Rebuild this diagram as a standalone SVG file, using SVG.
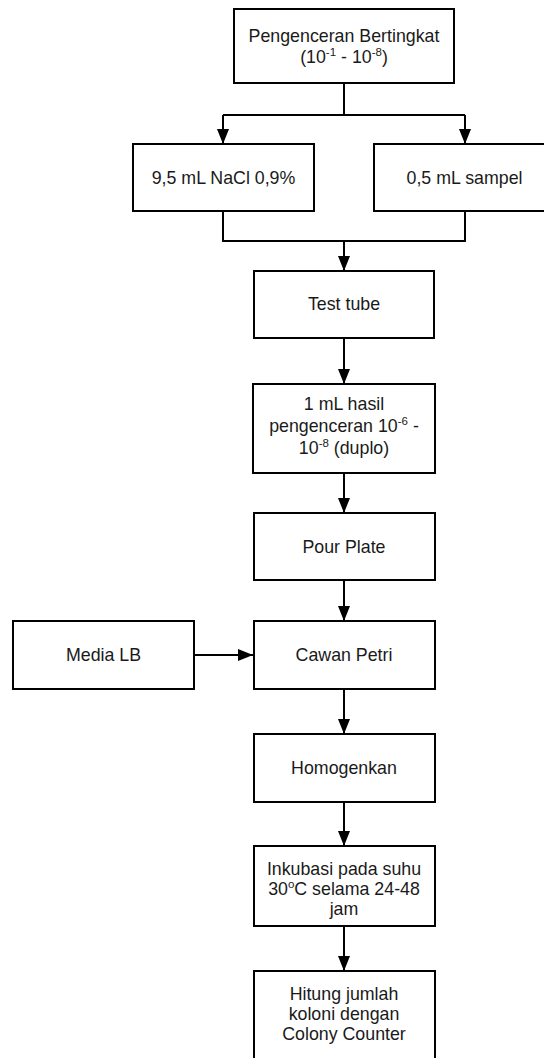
<svg xmlns="http://www.w3.org/2000/svg" width="544" height="1058" viewBox="0 0 544 1058">
<style>
.box{fill:#fff;stroke:#000;stroke-width:2}
.t{font-family:"Liberation Sans",Arial,sans-serif;font-size:17.8px;fill:#1a1a1a;text-anchor:middle}
.s{font-size:11.5px}
.c{fill:none;stroke:#000;stroke-width:2}
</style>
<defs>
<marker id="ah" markerUnits="userSpaceOnUse" markerWidth="15" markerHeight="12" viewBox="0 0 15 12" refX="15" refY="6" orient="auto">
<path d="M0,0 L15,6 L0,12 z" fill="#000"/>
</marker>
</defs>
<rect width="544" height="1058" fill="#fff"/>
<g id="connectors">
<path class="c" d="M344,83 V115 M223,115 H465"/>
<path class="c" d="M223,115 V144" marker-end="url(#ah)"/>
<path class="c" d="M465,115 V144" marker-end="url(#ah)"/>
<path class="c" d="M223,211 V241 H465 V211"/>
<path class="c" d="M344,241 V271" marker-end="url(#ah)"/>
<path class="c" d="M344,338 V384" marker-end="url(#ah)"/>
<path class="c" d="M344,473 V513" marker-end="url(#ah)"/>
<path class="c" d="M344,580 V621" marker-end="url(#ah)"/>
<path class="c" d="M194,655 H253" marker-end="url(#ah)"/>
<path class="c" d="M344,689 V734" marker-end="url(#ah)"/>
<path class="c" d="M344,802 V846" marker-end="url(#ah)"/>
<path class="c" d="M344,926 V971" marker-end="url(#ah)"/>
</g>
<g id="n1">
<rect class="box" x="234" y="9" width="220" height="74"/>
<text class="t" x="344" y="42">Pengenceran Bertingkat</text>
<text class="t" x="344" y="63">(10<tspan class="s" dy="-7.5">-1</tspan><tspan dy="7.5"> - 10</tspan><tspan class="s" dy="-7.5">-8</tspan><tspan dy="7.5">)</tspan></text>
</g>
<g id="n2">
<rect class="box" x="133" y="144" width="181" height="67"/>
<text class="t" x="223.5" y="184">9,5 mL NaCl 0,9%</text>
</g>
<g id="n3">
<rect class="box" x="374" y="144" width="181" height="67"/>
<text class="t" x="464.5" y="184">0,5 mL sampel</text>
</g>
<g id="n4">
<rect class="box" x="254" y="271" width="180" height="67"/>
<text class="t" x="344" y="310">Test tube</text>
</g>
<g id="n5">
<rect class="box" x="253" y="384" width="182" height="89"/>
<text class="t" x="344" y="410">1 mL hasil</text>
<text class="t" x="344" y="432">pengenceran 10<tspan class="s" dy="-7.5">-6</tspan><tspan dy="7.5"> -</tspan></text>
<text class="t" x="344" y="454">10<tspan class="s" dy="-7.5">-8</tspan><tspan dy="7.5"> (duplo)</tspan></text>
</g>
<g id="n6">
<rect class="box" x="254" y="513" width="181" height="67"/>
<text class="t" x="344" y="553">Pour Plate</text>
</g>
<g id="n7">
<rect class="box" x="13" y="621" width="181" height="68"/>
<text class="t" x="103.5" y="661">Media LB</text>
</g>
<g id="n8">
<rect class="box" x="254" y="621" width="181" height="68"/>
<text class="t" x="344" y="661">Cawan Petri</text>
</g>
<g id="n9">
<rect class="box" x="254" y="734" width="181" height="68"/>
<text class="t" x="344" y="774">Homogenkan</text>
</g>
<g id="n10">
<rect class="box" x="254" y="846" width="181" height="80"/>
<text class="t" x="344" y="875">Inkubasi pada suhu</text>
<text class="t" x="344" y="895">30<tspan class="s" dy="-7">o</tspan><tspan dy="7">C selama 24-48</tspan></text>
<text class="t" x="344" y="915">jam</text>
</g>
<g id="n11">
<rect class="box" x="254" y="971" width="181" height="100"/>
<text class="t" x="344" y="1000">Hitung jumlah</text>
<text class="t" x="344" y="1020">koloni dengan</text>
<text class="t" x="344" y="1040">Colony Counter</text>
</g>
</svg>
